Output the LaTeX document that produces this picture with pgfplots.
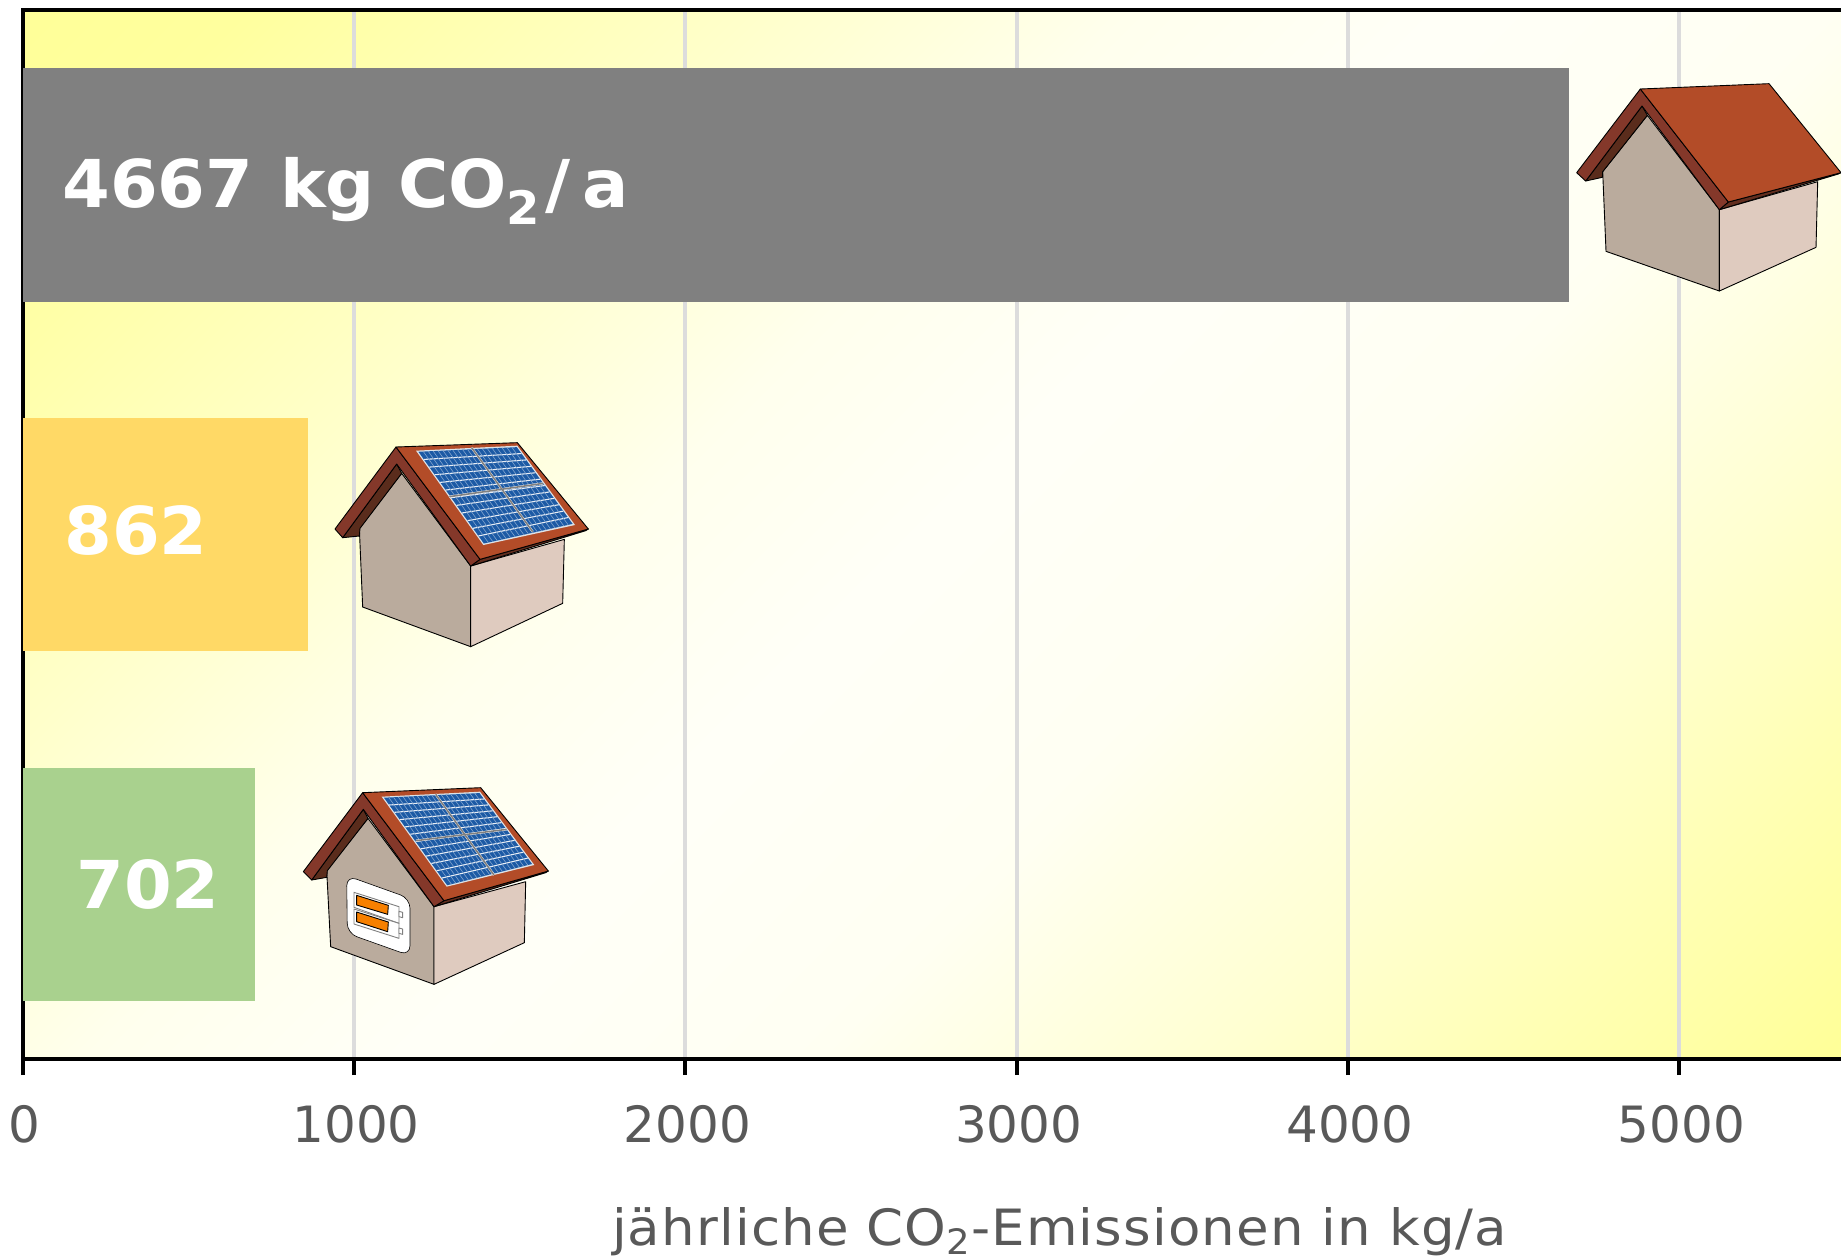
\documentclass[border=0pt]{standalone}
\usepackage{pgfplots}
\pgfplotsset{compat=1.18}
\usepackage{fontspec}
\setmainfont{DejaVu Sans}
\newfontfamily\barfont[FakeStretch=1.04]{DejaVu Sans Bold}
\newfontfamily\labfont[FakeStretch=1.06,LetterSpace=2.3]{DejaVu Sans}
\usetikzlibrary{calc}
\definecolor{roof}{HTML}{B34C28}
\definecolor{barge}{HTML}{84382A}
\definecolor{under}{HTML}{5A2C1C}
\definecolor{wallL}{HTML}{BAAB9D}
\definecolor{wallR}{HTML}{DFCBBF}
\definecolor{cell}{HTML}{1C5AA5}
\definecolor{frameC}{HTML}{DDE3E8}
\definecolor{tickC}{HTML}{595959}
\definecolor{gridC}{HTML}{DCDCDC}
\definecolor{barG}{HTML}{808080}
\definecolor{barY}{HTML}{FFD966}
\definecolor{barV}{HTML}{A9D18E}
\definecolor{battO}{HTML}{F78000}
\pgfdeclarehorizontalshading{bgshade}{100bp}{
 color(0bp)=(yellow!40!white);
 color(15bp)=(yellow!40!white);
 color(20bp)=(yellow!38!white);
 color(33bp)=(yellow!20!white);
 color(42bp)=(yellow!7!white);
 color(50bp)=(yellow!3!white);
 color(60bp)=(yellow!5!white);
 color(70bp)=(yellow!18!white);
 color(77bp)=(yellow!29!white);
 color(85bp)=(yellow!40!white);
 color(100bp)=(yellow!40!white)}
\newcommand{\solar}[6]{%
 \fill[frameC] #1--#2--#3--#4--cycle;
 \coordinate (sa) at #1; \coordinate (sb) at #2; \coordinate (sc) at #3; \coordinate (sd) at #4;
 \coordinate (ia) at ($(sa)!0.015!(sc)$); \coordinate (ib) at ($(sb)!0.015!(sd)$);
 \coordinate (ic) at ($(sc)!0.015!(sa)$); \coordinate (id) at ($(sd)!0.015!(sb)$);
 \fill[cell] (ia)--(ib)--(ic)--(id)--cycle;
 \foreach \t in {0.0833,0.1667,...,0.95}{
  \draw[white!90!cell,line width=0.55pt] ($(ia)!\t!(id)$)--($(ib)!\t!(ic)$);}
 \foreach \t in {0.05,0.1,...,0.97}{
  \draw[white!45!cell,line width=0.3pt] ($(ia)!\t!(ib)$)--($(id)!\t!(ic)$);}
 \draw[white,line width=1.1pt] #5;
 \draw[white,line width=1.1pt] #6;
 \draw[gray,line width=0.8pt] #5;
 \draw[gray,line width=0.8pt] #6;
}
\begin{document}
\begin{tikzpicture}[x=0.5pt,y=-0.5pt]
\useasboundingbox (0,0) rectangle (1841,1259);
\clip (0,0) rectangle (1841,1259);
\begin{axis}[
  at={(11.35pt,-529.6pt)},anchor=south west,
  scale only axis,width=911.15pt,height=524.6pt,
  xmin=0,xmax=5500,ymin=-0.5,ymax=2.5,y dir=reverse,
  axis background/.style={shade,shading=bgshade,shading angle=-45},
  axis line style={line width=1.9pt,black},
  xtick={0,1000,2000,3000,4000,5000},ytick=\empty,
  x tick style={line width=1.9pt,black},
  tick align=outside,major tick length=8pt,
  xtick pos=bottom,
  xmajorgrids,
  x grid style={gridC,line width=1.9pt},
  xticklabel style={font=\fontsize{25}{30}\selectfont,text=tickC,yshift=-11.5pt,xshift=1pt},
  /pgf/number format/assume math mode=true,
  /pgf/number format/1000 sep={},
  xlabel={\labfont jährliche CO\textsubscript{2}-Emissionen in kg/a},
  xlabel style={font=\fontsize{25}{30}\selectfont,text=tickC,inner sep=0pt,at={(axis cs:3130,2.5)},anchor=base,yshift=-93pt},
  xbar,bar shift=0pt,bar width=0.668,
  clip=false,
]
\addplot[xbar,fill=barG,draw=none] coordinates {(4667,0)};
\addplot[xbar,fill=barY,draw=none] coordinates {(862,1)};
\addplot[xbar,fill=barV,draw=none] coordinates {(702,2)};
\end{axis}
\node[anchor=base west,inner sep=0,font=\barfont\fontsize{33}{40}\selectfont,text=white] at (62,207) {4667\hspace{1.5pt} kg\hspace{-0.5pt} CO\textsubscript{\hspace{0pt}2}\hspace{2pt}/\hspace{6pt}a};
\node[anchor=base west,inner sep=0,font=\barfont\fontsize{33}{40}\selectfont,text=white] at (64,554) {862};
\node[anchor=base west,inner sep=0,font=\barfont\fontsize{33}{40}\selectfont,text=white] at (76,908) {702};
% house 1
\begin{scope}[shift={(1560,60)},x=0.16667pt,y=-0.16667pt,line width=0.45pt,line join=round]
 \draw[fill=wallL] (262,166)--(478,449)--(478,693)--(138,574)--(128,335)--cycle;
 \draw[fill=wallR] (478,449)--(773,365)--(768,562)--(478,693)--cycle;
 \draw[fill=under] (246,138)--(262,166)--(128,335)--(127,352)--(77,363)--cycle;
 \draw[fill=under!80!barge] (478,449)--(505,426)--(843,338)--(835,342)--cycle;
 \draw[fill=barge] (241,87)--(505,426)--(478,449)--(246,138)--(77,363)--(50,338)--cycle;
 \draw[fill=roof] (241,87)--(627,71)--(843,338)--(505,426)--cycle;
\end{scope}
% house 2
\begin{scope}[shift={(320,430)},x=0.16667pt,y=-0.16667pt,line width=0.45pt,line join=round]
 \draw[fill=wallL] (245,130)--(452,408)--(452,650)--(128,531)--(118,295)--cycle;
 \draw[fill=wallR] (452,408)--(733,328)--(728,520)--(452,650)--cycle;
 \draw[fill=under] (230,102)--(245,130)--(120,295)--(118,318)--(68,323)--cycle;
 \draw[fill=under!80!barge] (452,408)--(480,388)--(805,297)--(797,302)--cycle;
 \draw[fill=barge] (228,51)--(480,388)--(452,408)--(230,102)--(68,323)--(45,297)--cycle;
 \draw[fill=roof] (228,51)--(592,38)--(805,297)--(480,388)--cycle;
 \solar{(288,62)}{(592,47)}{(765,285)}{(490,345)}{(455,53)--(638,305)}{(388,200)--(670,160)}
\end{scope}
% house 3
\begin{scope}[shift={(290,770)},x=0.16667pt,y=-0.16667pt,line width=0.45pt,line join=round]
 \draw[fill=wallL] (234,145)--(432,410)--(432,643)--(122,530)--(110,300)--cycle;
 \draw[fill=wallR] (432,410)--(707,335)--(703,518)--(432,643)--cycle;
 \draw[fill=under] (220,118)--(234,145)--(112,302)--(110,322)--(65,330)--cycle;
 \draw[fill=under!80!barge] (432,410)--(462,392)--(775,303)--(767,308)--cycle;
 \draw[fill=barge] (218,68)--(462,392)--(432,410)--(220,118)--(65,330)--(40,305)--cycle;
 \draw[fill=roof] (218,68)--(572,53)--(775,303)--(462,392)--cycle;
 \solar{(275,80)}{(570,65)}{(733,285)}{(470,350)}{(437,73)--(612,315)}{(378,212)--(650,178)}
 \fill[white,draw=black,line width=0.3pt,rounded corners=5pt] (170,317)--(360,385)--(360,557)--(172,490)--cycle;
 \draw[fill=white,draw=gray] (192,367)--(327,410)--(327,460)--(192,412)--cycle;
 \draw[fill=white,draw=gray] (192,417)--(327,460)--(327,505)--(192,462)--cycle;
 \draw[fill=white,draw=gray] (327,424)--(338,427)--(338,443)--(327,440)--cycle;
 \draw[fill=white,draw=gray] (327,474)--(338,477)--(338,493)--(327,490)--cycle;
 \draw[fill=battO,draw=black] (200,376)--(295,406)--(293,433)--(200,405)--cycle;
 \draw[fill=battO,draw=black] (200,426)--(295,456)--(293,485)--(200,455)--cycle;
\end{scope}
\end{tikzpicture}
\end{document}
